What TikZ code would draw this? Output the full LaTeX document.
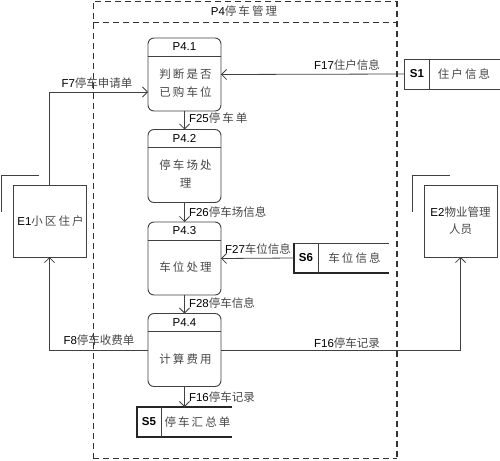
\documentclass[tikz,border=0pt]{standalone}
\usepackage{fontspec}
\setmainfont{Liberation Sans}
\newfontfamily\cjkf{Noto Sans CJK SC}
\newfontfamily\cjkw[LetterSpace=18]{Noto Sans CJK SC}
\newcommand{\cj}[1]{{\cjkf\color{black!72}#1}}
\newcommand{\cw}[1]{{\cjkw\color{black!72}#1\kern-2pt}}
\usetikzlibrary{arrows.meta}
\definecolor{ln}{gray}{0.25}
\tikzset{
  x=1pt, y=-1pt,
  every node/.style={font=\fontsize{11.5}{13}\selectfont, inner sep=0pt, outer sep=0pt},
  proc/.style={draw=ln, line width=0.9pt, rounded corners=6pt, minimum width=73pt, minimum height=73pt},
  ent/.style={draw=ln, line width=0.9pt, minimum width=73pt, minimum height=72pt},
  storebox/.style={minimum width=95pt, minimum height=30pt},
  arr/.style={draw=ln, line width=0.8pt, -{Straight Barb[length=5pt,width=10pt]}},
  flow/.style={draw=ln, line width=0.8pt},
  frame/.style={draw=black!80, line width=0.9pt, dash pattern=on 6pt off 4pt},
  lbl/.style={font=\fontsize{11.5}{13}\selectfont},
  body/.style={align=center, font=\fontsize{11.5}{18}\selectfont},
  stl/.style={draw=black!85, line width=1.3pt},
  stthin/.style={draw=ln, line width=0.8pt}
}
\begin{document}
\begin{tikzpicture}
\useasboundingbox (0,0) rectangle (500,460);
% frame
\draw[frame] (93,459) -- (93,1) -- (397,1);
\draw[frame] (93,22) -- (397,22);
\draw[frame] (93,458) -- (397,458);
\draw[frame, line width=1.3pt] (397,1) -- (397,459);
\node (title) at (243,11) {P4\cw{停车管理}};

% processes
\node[proc] (p41) at (184.5,74.5) {};
\node[proc] (p42) at (184.5,166) {};
\node[proc] (p43) at (184.5,258.5) {};
\node[proc] (p44) at (184.5,350) {};
\foreach \p/\n in {p41/P4.1,p42/P4.2,p43/P4.3,p44/P4.4}{
  \draw[draw=ln, line width=0.9pt] ([yshift=-18pt]\p.north west) -- ([yshift=-18pt]\p.north east);
  \node (\p h) at ([yshift=-9pt]\p.north) {\n};
}
\node[body] (p41b) at ([yshift=-9pt]p41.center) {\cw{判断是否}\\\cw{已购车位}};
\node[body] (p42b) at ([yshift=-8pt]p42.center) {\cw{停车场处}\\\cw{理}};
\node[body] (p43b) at ([yshift=-9pt]p43.center) {\cw{车位处理}};
\node[body] (p44b) at ([yshift=-9pt]p44.center) {\cw{计算费用}};

% entities
\node[ent] (e1) at (49.5,221) {};
\node (e1t) at (e1.center) {E1\cw{小区住户}};
\draw[flow] ([xshift=-12pt,yshift=-27pt]e1.north west) -- ([xshift=-12pt,yshift=10pt]e1.north west) -- ([xshift=26pt,yshift=10pt]e1.north west);
\node[ent] (e2) at (460.5,221) {};
\node[body, font=\fontsize{11.5}{17}\selectfont] (e2t) at (e2.center) {E2\cj{物业管理}\\\cj{人员}};
\draw[flow] ([xshift=-12pt,yshift=-27pt]e2.north west) -- ([xshift=-12pt,yshift=10pt]e2.north west) -- ([xshift=26pt,yshift=10pt]e2.north west);

% stores
\node[storebox] (s1) at (452,74) {};
\draw[stthin] (s1.north east) -- (s1.north west) -- (s1.south west) -- (s1.south east);
\draw[stthin] ([xshift=25pt]s1.north west) -- ([xshift=25pt]s1.south west);
\node (s1a) at ([xshift=12.5pt]s1.west) {\textbf{S1}};
\node (s1b) at ([xshift=11pt]s1.center) {\cw{住户信息}};

\node[storebox] (s6) at (341.5,258) {};
\draw[stthin] (s6.north east) -- (s6.north west);
\draw[stl] (s6.north west) -- (s6.south west) -- (s6.south east);
\draw[stthin] ([xshift=24pt]s6.north west) -- ([xshift=24pt]s6.south west);
\node (s6a) at ([xshift=12pt]s6.west) {\textbf{S6}};
\node (s6b) at ([xshift=12pt]s6.center) {\cw{车位信息}};

\node[storebox] (s5) at (184.5,422) {};
\draw[stl] (s5.north east) -- (s5.north west) -- (s5.south west) -- (s5.south east);
\draw[stthin] ([xshift=24pt]s5.north west) -- ([xshift=24pt]s5.south west);
\node (s5a) at ([xshift=12pt]s5.west) {\textbf{S5}};
\node (s5b) at ([xshift=12pt]s5.center) {\cw{停车汇总单}};

% flows
\draw[arr] (e1.north) |- ([yshift=-17.5pt]p41.west);
\node[lbl] (f7) at (97,83) {F7\cj{停车申请单}};
\draw[arr] (s1.west) -- (p41.east);
\node[lbl] (f17) at (347,65) {F17\cj{住户信息}};
\draw[arr] (p41.south) -- (p42.north);
\node[lbl, anchor=west] (f25) at (189,118) {F25\cw{停车单}};
\draw[arr] (p42.south) -- (p43.north);
\node[lbl, anchor=west] (f26) at (189,212) {F26\cj{停车场信息}};
\draw[arr] (s6.west) -- (p43.east);
\node[lbl] (f27) at (258,249) {F27\cj{车位信息}};
\draw[arr] (p43.south) -- (p44.north);
\node[lbl, anchor=west] (f28) at (189,303) {F28\cj{停车信息}};
\draw[arr] (p44.west) -| (e1.south);
\node[lbl] (f8) at (99,340) {F8\cj{停车收费单}};
\draw[arr] (p44.east) -| (e2.south);
\node[lbl] (f16a) at (347,343) {F16\cj{停车记录}};
\draw[arr] (p44.south) -- (s5.north);
\node[lbl, anchor=west] (f16b) at (189,397) {F16\cj{停车记录}};
\end{tikzpicture}
\end{document}
